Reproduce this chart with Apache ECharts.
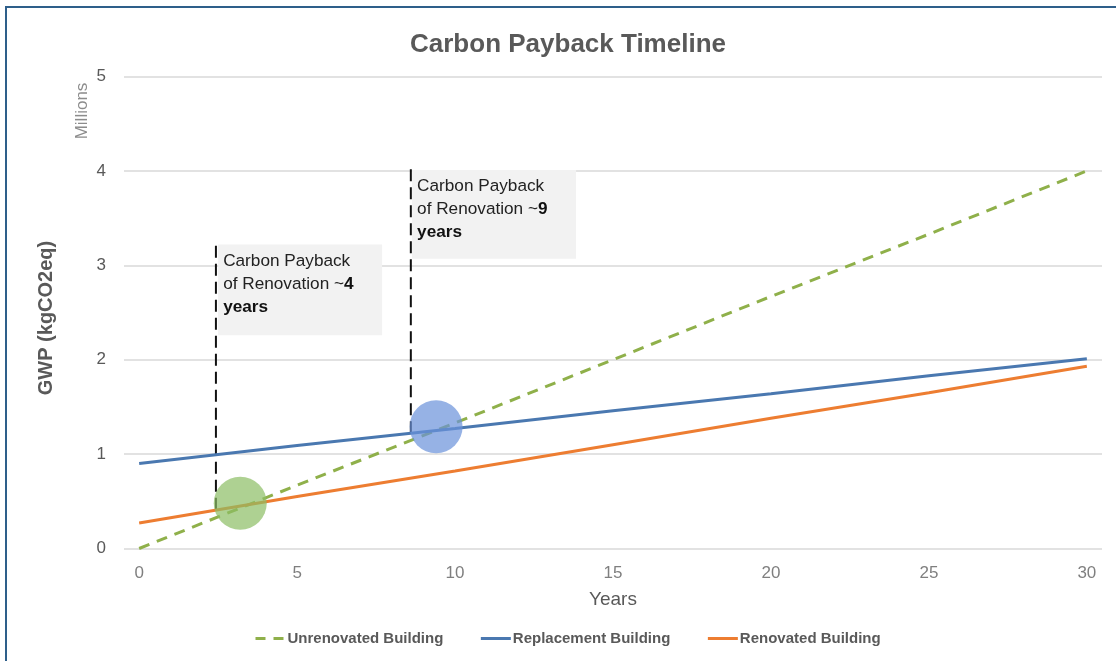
<!DOCTYPE html>
<html>
<head>
<meta charset="utf-8">
<script src="https://cdn.jsdelivr.net/npm/echarts@6/dist/echarts.min.js"></script>
<style>html,body{margin:0;padding:0;background:#fff;}#c{width:1116px;height:661px;}</style>
</head>
<body>
<div id="c"></div>
<script>
// ---- data ----
var years = [0, 5, 10, 15, 20, 25, 30];
var unrenovated = [0, 0.67, 1.33, 2.0, 2.67, 3.33, 4.0];
var replacement = [0.9, 1.09, 1.27, 1.46, 1.64, 1.83, 2.01];
var renovated = [0.27, 0.55, 0.82, 1.1, 1.38, 1.65, 1.93];
var xTicks = [0, 5, 10, 15, 20, 25, 30];
var guideYears = [2.43, 8.6];
var guideBottom = [0.41, 1.22];
var guideTop = [3.24, 4.03];
var markerYears = [3.2, 9.4];
var markerValues = [0.48, 1.29];
var boxX0 = [2.5, 8.64];
var boxX1 = [7.69, 13.83];
var boxY0 = [2.26, 3.07];
var boxY1 = [3.22, 4.01];
var boxPayback = ['4', '9'];

var sans = '"Liberation Sans", Arial, sans-serif';

function pairs(xs, ys) { return xs.map(function (x, i) { return [x, ys[i]]; }); }

var guideSeries = guideYears.map(function (x, i) {
  return {
    type: 'line', name: 'guide' + i, silent: true, symbol: 'none', z: 3,
    data: [[x, guideBottom[i]], [x, guideTop[i]]],
    lineStyle: { color: '#111', width: 2, type: [12, 6] },
    markArea: {
      silent: true,
      itemStyle: { color: '#f2f2f2' },
      label: {
        show: true, position: 'insideTopLeft', distance: 5,
        formatter: '{n|Carbon Payback}\n{n|of Renovation ~}{b|' + boxPayback[i] + '}\n{b|years}',
        rich: {
          n: { fontFamily: sans, fontSize: 17.2, color: '#222', lineHeight: 23 },
          b: { fontFamily: sans, fontSize: 17.2, color: '#111', fontWeight: 'bold', lineHeight: 23 }
        }
      },
      data: [[{ coord: [boxX0[i], boxY1[i]] }, { coord: [boxX1[i], boxY0[i]] }]]
    }
  };
});

var option = {
  animation: false,
  backgroundColor: '#fff',
  title: {
    text: 'Carbon Payback Timeline', left: 563, top: 27, textAlign: 'center',
    textStyle: { fontFamily: sans, fontSize: 26, fontWeight: 'bold', color: '#595959' }
  },
  graphic: [
    { type: 'rect', shape: { x: 6, y: 7, width: 1200, height: 700 }, style: { fill: 'none', stroke: '#2e5f8a', lineWidth: 2 }, silent: true },
    { type: 'text', x: 82, y: 111, rotation: Math.PI / 2, style: { text: 'Millions', fontFamily: sans, fontSize: 17, fill: '#8c8c8c', align: 'center', verticalAlign: 'middle' } },
    { type: 'text', x: 46, y: 318, rotation: Math.PI / 2, style: { text: 'GWP (kgCO2eq)', fontFamily: sans, fontSize: 20, fontWeight: 'bold', fill: '#595959', align: 'center', verticalAlign: 'middle' } }
  ],
  legend: {
    left: 249, top: 626, itemGap: 36, itemWidth: 30, itemHeight: 12,
    itemStyle: { opacity: 0 },
    data: [
      { name: 'Unrenovated Building', lineStyle: { type: [10, 8], width: 3 } },
      { name: 'Replacement Building', lineStyle: { width: 3 } },
      { name: 'Renovated Building', lineStyle: { width: 3 } }
    ],
    textStyle: { fontFamily: sans, fontSize: 15, fontWeight: 'bold', color: '#595959', padding: [0, 0, 0, -3] }
  },
  grid: { left: 124, right: 14, top: 76.5, bottom: 112.5 },
  xAxis: {
    type: 'value', min: -0.48, max: 30.48,
    name: 'Years', nameLocation: 'middle', nameGap: 42,
    nameTextStyle: { fontFamily: sans, fontSize: 19, color: '#595959' },
    axisLine: { show: false }, axisTick: { show: false }, splitLine: { show: false },
    axisLabel: { customValues: xTicks, margin: 16, fontFamily: sans, fontSize: 17, color: '#7f7f7f' }
  },
  yAxis: {
    type: 'value', min: 0, max: 5, interval: 1,
    axisLine: { show: false }, axisTick: { show: false },
    splitLine: { lineStyle: { color: '#d9d9d9', width: 1.5 } },
    axisLabel: { margin: 18, fontFamily: sans, fontSize: 17, color: '#595959' }
  },
  series: guideSeries.concat([
    {
      type: 'line', name: 'Unrenovated Building', symbol: 'none', z: 4,
      data: pairs(years, unrenovated),
      itemStyle: { color: '#8fb04a' },
      lineStyle: { color: '#8fb04a', width: 3, type: [11, 8] }
    },
    {
      type: 'line', name: 'Replacement Building', symbol: 'none', z: 4,
      data: pairs(years, replacement),
      itemStyle: { color: '#4a78b0' },
      lineStyle: { color: '#4a78b0', width: 3 }
    },
    {
      type: 'line', name: 'Renovated Building', symbol: 'none', z: 4,
      data: pairs(years, renovated),
      itemStyle: { color: '#ed7d31' },
      lineStyle: { color: '#ed7d31', width: 3 }
    },
    {
      type: 'scatter', name: 'payback', silent: true, symbolSize: 53, z: 5,
      data: [
        { value: [markerYears[0], markerValues[0]], itemStyle: { color: 'rgba(140,190,100,0.88)' } },
        { value: [markerYears[1], markerValues[1]], itemStyle: { color: 'rgba(105,145,218,0.88)' } }
      ]
    }
  ])
};

var chart = echarts.init(document.getElementById('c'), null, { renderer: 'canvas' });
chart.setOption(option);
</script>
</body>
</html>
